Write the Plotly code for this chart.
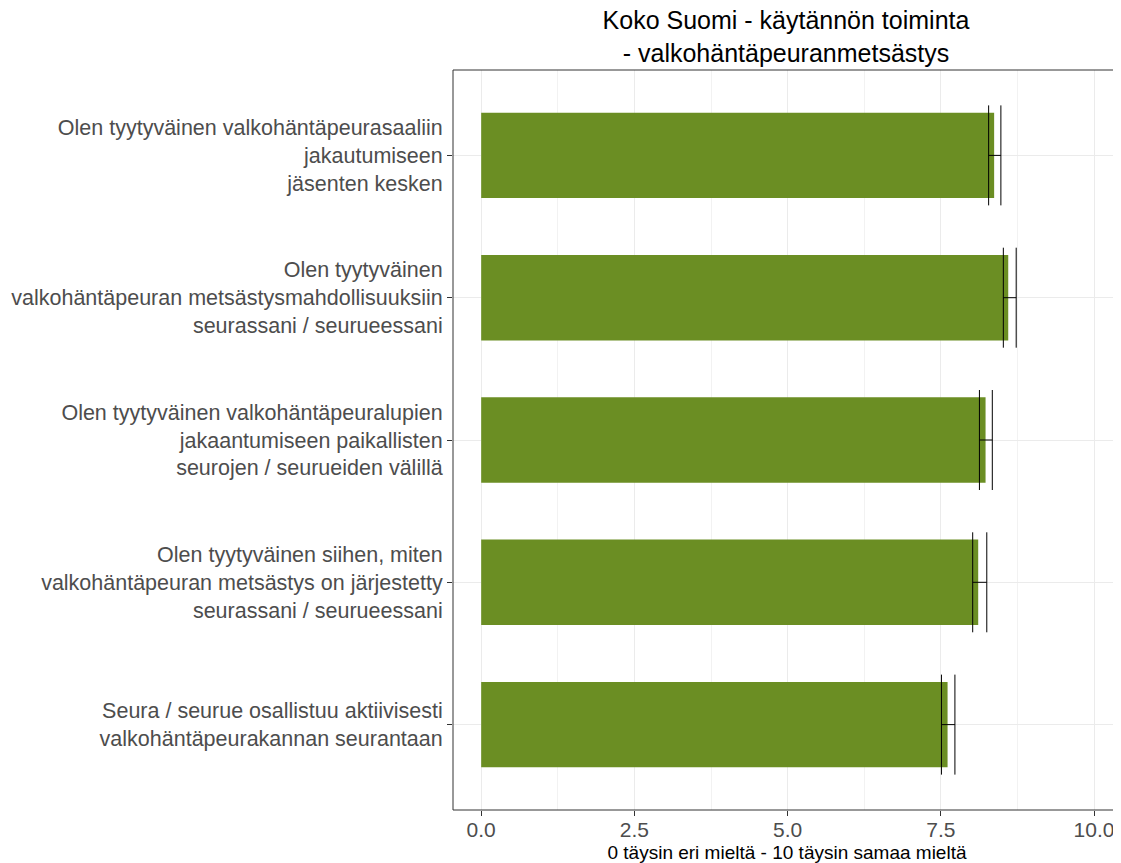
import plotly.graph_objects as go

categories = [
    "Olen tyytyväinen valkohäntäpeurasaaliin<br>jakautumiseen<br>jäsenten kesken",
    "Olen tyytyväinen<br>valkohäntäpeuran metsästysmahdollisuuksiin<br>seurassani / seurueessani",
    "Olen tyytyväinen valkohäntäpeuralupien<br>jakaantumiseen paikallisten<br>seurojen / seurueiden välillä",
    "Olen tyytyväinen siihen, miten<br>valkohäntäpeuran metsästys on järjestetty<br>seurassani / seurueessani",
    "Seura / seurue osallistuu aktiivisesti<br>valkohäntäpeurakannan seurantaan",
]
means = [8.37, 8.60, 8.23, 8.11, 7.61]
lower = [8.28, 8.52, 8.13, 8.02, 7.51]
upper = [8.48, 8.73, 8.34, 8.25, 7.73]
tick_vals = [0, 2.5, 5, 7.5, 10]
tick_text = ["0.0", "2.5", "5.0", "7.5", "10.0"]

err_plus = [u - m for u, m in zip(upper, means)]
err_minus = [m - l for m, l in zip(means, lower)]

fig = go.Figure()
fig.add_trace(go.Bar(
    y=categories, x=means, orientation="h", width=0.6,
    marker=dict(color="#6B8E23", line=dict(width=0)),
    error_x=dict(type="data", symmetric=False, array=err_plus, arrayminus=err_minus,
                 color="black", thickness=1, width=50),
    showlegend=False,
))

border = dict(type="line", xref="paper", yref="paper", line=dict(color="#333333", width=1), layer="above")
fig.add_shape(**border, x0=0, x1=0, y0=0, y1=1)
fig.add_shape(**border, x0=0, x1=1, y0=1, y1=1)
fig.add_shape(**border, x0=0, x1=1, y0=0, y1=0)
fig.add_shape(**border, x0=1, x1=1, y0=0, y1=1)

fig.update_layout(
    width=1113, height=855,
    margin=dict(l=445, r=0, t=62, b=53, autoexpand=False),
    plot_bgcolor="white", paper_bgcolor="white",
    font=dict(family="Liberation Sans, Arial, sans-serif"),
    title=dict(text="Koko Suomi - käytännön toiminta<br>- valkohäntäpeuranmetsästys",
               x=0.699, xanchor="center", y=0.9754, yanchor="top",
               font=dict(size=25, color="black")),
    bargap=0.4,
)
fig.update_xaxes(
    range=[-0.46, 10.44], tickvals=tick_vals, ticktext=tick_text,
    showgrid=True, gridcolor="#ebebeb", gridwidth=1,
    minor=dict(dtick=1.25, tick0=0, showgrid=True, gridcolor="#f2f2f2", gridwidth=0.6),
    zeroline=False, showline=False,
    ticks="outside", ticklen=5, tickcolor="#333333",
    tickfont=dict(size=21, color="#4d4d4d"),
    ticklabelstandoff=-4, ticklabeloverflow="allow",
    automargin=False,
    title=dict(text="0 täysin eri mieltä - 10 täysin samaa mieltä",
               font=dict(size=19, color="black"), standoff=6),
)
fig.update_yaxes(
    autorange=False, range=[4.6, -0.6], type="category",
    showgrid=True, gridcolor="#ebebeb", gridwidth=1,
    zeroline=False, showline=False,
    ticks="outside", ticklen=5, tickcolor="#333333",
    tickfont=dict(size=21.5, color="#4d4d4d"),
    automargin=False,
)

fig.write_html("out.html")
